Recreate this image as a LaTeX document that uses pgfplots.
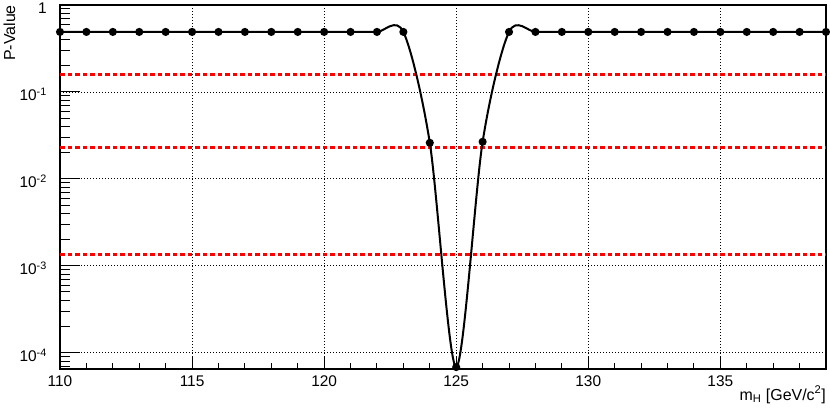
\documentclass[border=0pt]{standalone}
\usepackage{pgfplots}
\pgfplotsset{compat=1.18}
\usepackage{fontspec}
\setmainfont{Liberation Sans}
\begin{document}
\begin{tikzpicture}
\useasboundingbox (0,0) rectangle (830bp,409bp);
\begin{axis}[
  at={(60bp,40bp)}, anchor=south west,
  scale only axis, width=766bp, height=364bp,
  xmin=110, xmax=139,
  ymode=log, ymin=6.5e-5, ymax=1,
  tick pos=left, tick align=inside,
  xtick={110,115,120,125,130,135},
  xticklabels={110,115,120,125,130,135},
  minor xtick={111,112,113,114,116,117,118,119,121,122,123,124,126,127,128,129,131,132,133,134,136,137,138,139},
  ytick={1e-4,1e-3,1e-2,1e-1,1},
  yticklabels={10\textsuperscript{-4},10\textsuperscript{-3},10\textsuperscript{-2},10\textsuperscript{-1},1},
  minor ytick={7e-5,8e-5,9e-5,2e-4,3e-4,4e-4,5e-4,6e-4,7e-4,8e-4,9e-4,2e-3,3e-3,4e-3,5e-3,6e-3,7e-3,8e-3,9e-3,2e-2,3e-2,4e-2,5e-2,6e-2,7e-2,8e-2,9e-2,2e-1,3e-1,4e-1,5e-1,6e-1,7e-1,8e-1,9e-1},
  xtick style={/pgfplots/major tick length=12bp, /pgfplots/minor tick length=6bp, black, line width=1bp},
  ytick style={/pgfplots/major tick length=20bp, /pgfplots/minor tick length=10bp, black, line width=1bp},
  grid=major,
  major grid style={black, line width=0.8bp, dash pattern=on 1bp off 2bp},
  axis line style={black, line width=1.2bp},
  xticklabel style={font=\fontsize{15.5}{18}\selectfont, anchor=north, inner sep=0pt, yshift=-7bp},
  yticklabel style={font=\fontsize{15.5}{18}\selectfont, anchor=base east, inner sep=0pt, xshift=-13bp, yshift=-9bp},
  xlabel={m\textsubscript{H} [GeV/c\textsuperscript{2}]},
  xlabel style={font=\fontsize{16}{19}\selectfont, at={(axis description cs:1,0)}, anchor=base east, inner sep=0pt, yshift=-31bp},
  ylabel={P-Value},
  ylabel style={font=\fontsize{16}{19}\selectfont, at={(axis description cs:-0.0587,1)}, anchor=base east, inner sep=0pt},
  clip=false,
]
\addplot[red, line width=3bp, dash pattern=on 4.5bp off 3bp] coordinates {(110,0.1587) (139,0.1587)};
\addplot[red, line width=3bp, dash pattern=on 4.5bp off 3bp] coordinates {(110,0.02275) (139,0.02275)};
\addplot[red, line width=3bp, dash pattern=on 4.5bp off 3bp] coordinates {(110,0.00135) (139,0.00135)};
\addplot[black, line width=2bp, smooth, mark=*, mark size=3bp, mark options={solid, fill=black}] coordinates {
(110,0.49) (111,0.49) (112,0.49) (113,0.49) (114,0.49) (115,0.49) (116,0.49) (117,0.49) (118,0.49) (119,0.49)
(120,0.49) (121,0.49) (122,0.49) (123,0.49) (124,0.026) (125,6.84e-5) (126,0.0267) (127,0.49) (128,0.49) (129,0.49)
(130,0.49) (131,0.49) (132,0.49) (133,0.49) (134,0.49) (135,0.49) (136,0.49) (137,0.49) (138,0.49) (139,0.49)
};
\end{axis}
\end{tikzpicture}
\end{document}
